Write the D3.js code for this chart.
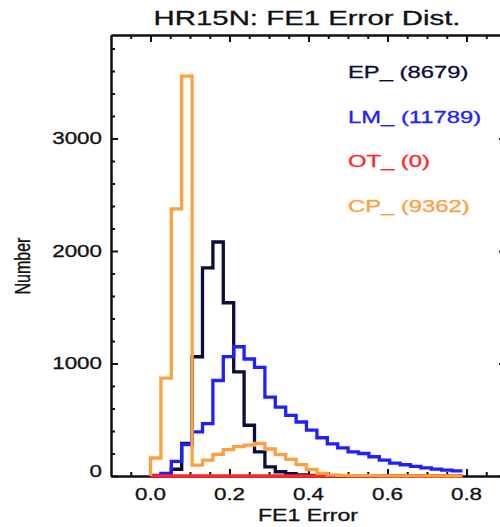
<!DOCTYPE html>
<html lang="en">
<head>
<meta charset="UTF-8">
<script src="https://d3js.org/d3.v7.min.js"></script>
<title>HR15N: FE1 Error Dist.</title>
<style>
  body { margin: 0; background: #fff; }
  text { font-family: "Liberation Sans", Arial, sans-serif; fill: #111; }
</style>
</head>
<body>
<svg id="svg1" width="500" height="527"></svg>
<script>

// histogram counts per FE1 error bin (30 bins from 0.0)
const binWidth = 0.02633
const epCounts = [0, 5, 60, 290, 1060, 1850, 2080, 1540, 925, 451, 215, 82, 38, 20, 10, 5, 3, 2, 1, 0, 0, 0, 0, 0, 0, 0, 0, 0, 0, 0]
const lmCounts = [5, 24, 130, 280, 392, 466, 849, 1061, 1149, 1040, 966, 701, 613, 539, 480, 407, 340, 285, 250, 215, 200, 171, 141, 115, 100, 85, 72, 62, 52, 45]
const otCounts = [0, 0, 0, 0, 0, 0, 0, 0, 0, 0, 0, 0, 0, 0, 0, 0, 0, 0, 0, 0, 0, 0, 0, 0, 0, 0, 0, 0, 0, 0]
const cpCounts = [160, 870, 2375, 3555, 97, 141, 193, 235, 262, 274, 289, 240, 190, 148, 102, 58, 24, 10, 6, 4, 3, 3, 2, 2, 2, 1, 1, 1, 1, 1]

const seriesNames = ["EP_", "LM_", "OT_", "CP_"]
const seriesTotals = [8679, 11789, 0, 9362]
const seriesColors = ["#0c0c3a", "#2020ff", "#ff2626", "#ffa040"]
const seriesCounts = [epCounts, lmCounts, otCounts, cpCounts]

const xMajor = [0.0, 0.2, 0.4, 0.6, 0.8]
const xMinor = [-0.05, 0.05, 0.1, 0.15, 0.25, 0.3, 0.35, 0.45, 0.5, 0.55, 0.65, 0.7, 0.75, 0.85]
const yMajor = [0, 1000, 2000, 3000]
const yMinor = [200, 400, 600, 800, 1200, 1400, 1600, 1800, 2200, 2400, 2600, 2800, 3200, 3400, 3600, 3800]

let svg = d3.select("#svg1")
const sx = 1.4   // the original's lettering is wide

let x = d3.scaleLinear().domain([-0.1, 0.9]).range([111, 506])
let y = d3.scaleLinear().domain([0, 3920]).range([476, 35])

function label(str, px, py, size, anchor, opts) {
    opts = opts || {}
    let t = `translate(${px},${py}) scale(${sx},1)` + (opts.rotate ? " rotate(-90)" : "")
    let col = opts.color || "#111"
    return svg.append("text")
        .attr("transform", t)
        .attr("text-anchor", anchor)
        .attr("dy", opts.dy || 0)
        .style("font-size", size + "px")
        .style("fill", col)
        .style("stroke", col)
        .style("stroke-width", 0.3)
        .text(str)
}

// axes: ticks point inward on all four sides
function drawAxis(axisFn, scale, values, size, translate) {
    let g = svg.append("g")
        .attr("transform", translate)
        .call(axisFn(scale).tickValues(values).tickSizeInner(-size).tickSizeOuter(0).tickFormat(() => ""))
    g.selectAll("line").attr("stroke", "#111").attr("stroke-width", 2)
    g.select(".domain").attr("stroke", "#111").attr("stroke-width", 2)
}

drawAxis(d3.axisBottom, x, xMajor, 7, "translate(0,476)")
drawAxis(d3.axisBottom, x, xMinor, 4, "translate(0,476)")
drawAxis(d3.axisTop, x, xMajor, 7, "translate(0,35)")
drawAxis(d3.axisTop, x, xMinor, 4, "translate(0,35)")
drawAxis(d3.axisLeft, y, yMajor, 7, "translate(111,0)")
drawAxis(d3.axisLeft, y, yMinor, 4, "translate(111,0)")
drawAxis(d3.axisRight, y, yMajor, 7, "translate(506,0)")
drawAxis(d3.axisRight, y, yMinor, 4, "translate(506,0)")

// histogram steps
let line = d3.line()
    .x(d => x(d[0]))
    .y(d => y(d[1]))
    .curve(d3.curveStepAfter)

seriesCounts.forEach((counts, i) => {
    let pts = [[0, 0]]
    counts.forEach((c, k) => pts.push([k * binWidth, c]))
    pts.push([counts.length * binWidth, counts[counts.length - 1]])
    svg.append("path")
        .attr("d", line(pts))
        .attr("fill", "none")
        .attr("stroke", seriesColors[i])
        .attr("stroke-width", 3.3)
        .attr("stroke-linejoin", "miter")
})

// tick labels
xMajor.forEach(v => label(v.toFixed(1), x(v), 500, 16, "middle"))
yMajor.forEach(v => label(v, 102, Math.min(y(v), 471), 16, "end", {dy: "0.35em"}))

// titles
label("HR15N: FE1 Error Dist.", 307, 25, 21, "middle")
label("FE1 Error", 308, 521, 16.5, "middle")
label("Number", 30, 266, 16, "middle", {rotate: true})

// legend
seriesNames.forEach((n, i) => {
    label(`${n} (${seriesTotals[i]})`, 348, 78 + i * 44.5, 17, "start", {color: seriesColors[i]})
})

</script>
</body>
</html>
